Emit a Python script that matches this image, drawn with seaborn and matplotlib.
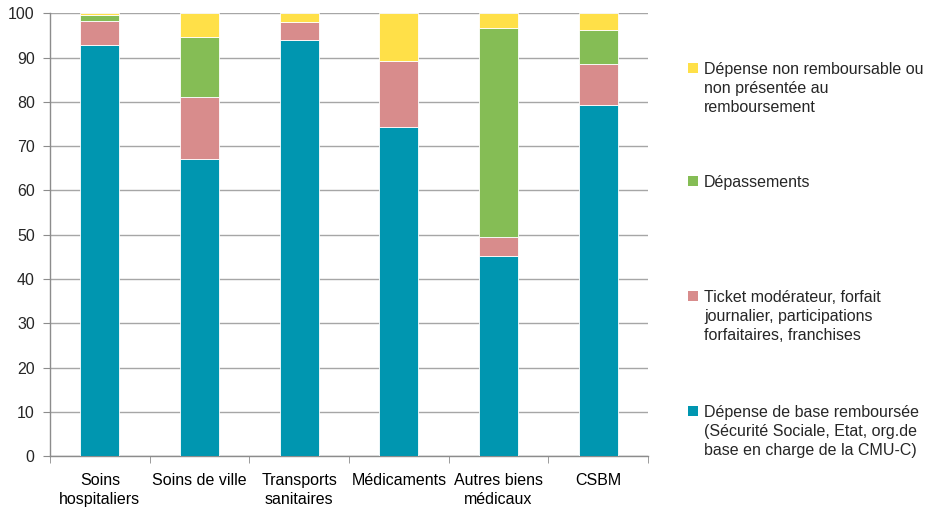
import matplotlib
matplotlib.use("Agg")
import matplotlib.pyplot as plt
import seaborn as sns
import numpy as np
from matplotlib.patches import Rectangle

categories = ["Soins\nhospitaliers", "Soins de ville", "Transports\nsanitaires",
              "Médicaments", "Autres biens\nmédicaux", "CSBM"]
base_remb = [92.9, 67.1, 94.0, 74.4, 45.3, 79.3]
ticket_mod = [5.4, 14.1, 4.1, 14.8, 4.1, 9.2]
depassements = [1.3, 13.5, 0.0, 0.0, 47.3, 7.7]
non_remb = [0.4, 5.3, 1.9, 10.8, 3.3, 3.8]

labels = {
    "base": "Dépense de base remboursée\n(Sécurité Sociale, Etat, org.de\nbase en charge de la CMU-C)",
    "ticket": "Ticket modérateur, forfait\njournalier, participations\nforfaitaires, franchises",
    "dep": "Dépassements",
    "non": "Dépense non remboursable ou\nnon présentée au\nremboursement",
}
colors = {"base": "#0096B0", "ticket": "#D88C8C", "dep": "#85BD55", "non": "#FFE048"}

sns.set_style("white")
plt.rcParams['font.family'] = ['Liberation Sans', 'DejaVu Sans']
plt.rcParams['font.size'] = 11.5

fig = plt.figure(figsize=(9.37, 5.14), dpi=100)
ax = fig.add_axes([50/937, 1-456/514, (648-50)/937, (456-13.5)/514])

series = [("base", base_remb), ("ticket", ticket_mod), ("dep", depassements), ("non", non_remb)]
bottom = np.zeros(len(categories))
for key, vals in series:
    sns.barplot(x=categories, y=vals, bottom=bottom, color=colors[key], width=0.39,
                edgecolor="white", linewidth=0.6, saturation=1, ax=ax, zorder=3)
    bottom = bottom + np.array(vals)

ax.set_ylim(0, 100)
ax.set_xlim(-0.5, len(categories) - 0.5)
ax.set_yticks(range(0, 101, 10))
ax.yaxis.grid(True, color="#A6A6A6", linewidth=1.0, zorder=0)
ax.set_axisbelow(True)
for s in ["top", "right"]:
    ax.spines[s].set_visible(False)
for s in ["left", "bottom"]:
    ax.spines[s].set_color("#8C8C8C")
    ax.spines[s].set_linewidth(1.0)
ax.set_xticks(np.arange(len(categories)))
ax.set_xticklabels(categories, linespacing=1.35)
ax.set_xticks(np.arange(-0.5, len(categories)), minor=True)
ax.tick_params(axis="x", which="major", length=0, pad=12, labelsize=11.5, colors="black")
ax.tick_params(axis="x", which="minor", length=5, color="#8C8C8C", direction="out", bottom=True)
ax.tick_params(axis="y", which="major", length=5, color="#8C8C8C", direction="out", left=True,
               labelsize=11.5, pad=6)
ax.set_xlabel("")
ax.set_ylabel("")

# Legend drawn manually (entries top-aligned, Excel-style)
legend_entries = [("non", 62), ("dep", 175), ("ticket", 290), ("base", 405)]
for key, ytop in legend_entries:
    fig.patches.append(Rectangle((688/937, 1-(ytop+11)/514), 10/937, 10/514,
                                 transform=fig.transFigure, facecolor=colors[key],
                                 edgecolor="none"))
    fig.text(704/937, 1-ytop/514, labels[key], ha="left", va="top",
             fontsize=11.5, linespacing=1.35)

fig.savefig("out.png", dpi=100)
